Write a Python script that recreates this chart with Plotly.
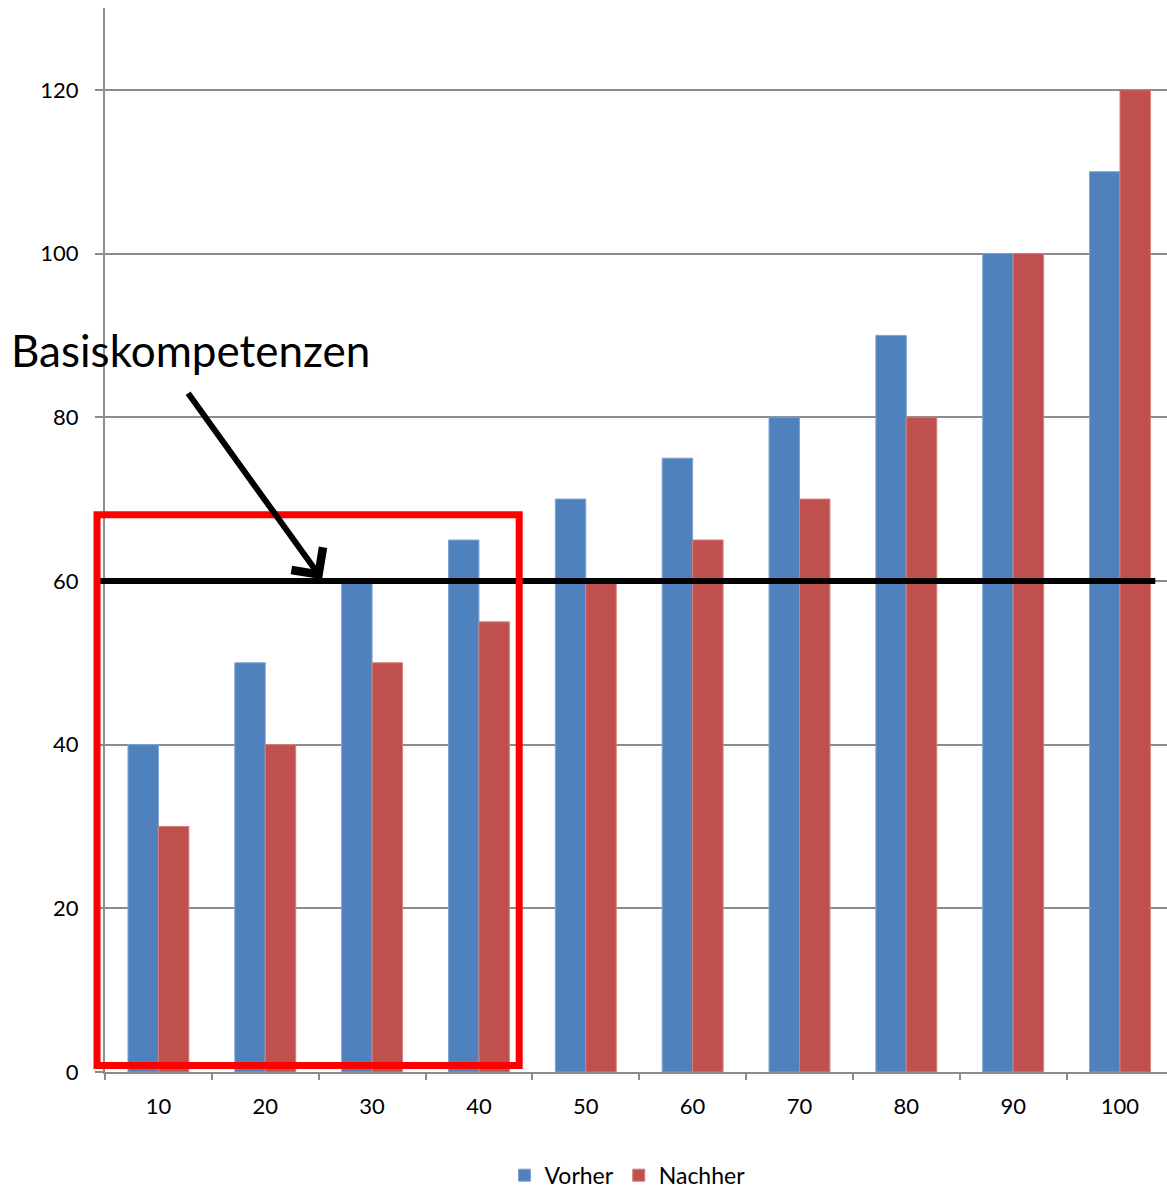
import plotly.graph_objects as go

# Kategorien und Werte
kategorien = ["10", "20", "30", "40", "50", "60", "70", "80", "90", "100"]
vorher = [40, 50, 60, 65, 70, 75, 80, 90, 100, 110]
nachher = [30, 40, 50, 55, 60, 65, 70, 80, 100, 120]
schwelle = 60
y_ticks = [0, 20, 40, 60, 80, 100, 120]

FONT = "Lato, Carlito, Calibri, sans-serif"
BLAU = "#4F81BD"
ROT = "#C0504D"

fig = go.Figure()
fig.add_trace(go.Bar(
    x=kategorien, y=vorher, name="Vorher",
    marker=dict(color=BLAU, line=dict(color="#7EA3D1", width=1)),
))
fig.add_trace(go.Bar(
    x=kategorien, y=nachher, name="Nachher",
    marker=dict(color=ROT, line=dict(color="#D47F7D", width=1)),
))

# Schwellenlinie bei 60
fig.add_shape(type="line", xref="paper", yref="y",
              x0=-0.005, x1=0.989, y0=schwelle, y1=schwelle,
              line=dict(color="black", width=6), layer="above")

# Markierung der ersten vier Gruppen
fig.add_shape(type="rect", xref="paper", yref="y",
              x0=-0.0075, x1=0.390, y0=0.8, y1=68.1,
              line=dict(color="#FF0000", width=7), layer="above")

# Beschriftung mit Pfeil auf die Schwelle
fig.add_annotation(text="Basiskompetenzen", xref="paper", yref="y",
                   x=-0.0905, y=88.2, xanchor="left", yanchor="middle",
                   showarrow=False, font=dict(family=FONT, size=44, color="black"))
fig.add_annotation(x=1.532, y=60.2, ax=0.268, ay=83.1,
                   xref="x", yref="y", axref="x", ayref="y",
                   text="", showarrow=True, arrowhead=4, arrowsize=1.25,
                   arrowwidth=6, arrowcolor="black")

fig.update_layout(
    width=1167, height=1189,
    margin=dict(l=105, r=0, t=8, b=117, autoexpand=False),
    paper_bgcolor="white", plot_bgcolor="white",
    barmode="group", bargap=0.43, bargroupgap=0,
    font=dict(family=FONT, size=22, color="black"),
    showlegend=True,
    legend=dict(orientation="h", x=0.492, xanchor="center",
                y=-0.097, yanchor="middle",
                font=dict(family=FONT, size=23, color="black"),
                itemwidth=30, tracegroupgap=0),
)

fig.update_xaxes(
    type="category", range=[-0.5, 9.44],
    showline=True, linecolor="#8C8C8C", linewidth=2,
    ticks="outside", tickson="boundaries", ticklen=6, tickwidth=2,
    tickcolor="#8C8C8C", showgrid=False, ticklabelstandoff=14,
    tickfont=dict(family=FONT, size=22, color="black"),
)
fig.update_yaxes(
    range=[0, 130], tickvals=y_ticks,
    showline=True, linecolor="#8C8C8C", linewidth=2,
    ticks="outside", ticklen=8, tickwidth=2, tickcolor="#8C8C8C",
    showgrid=True, gridcolor="#8C8C8C", gridwidth=2,
    zeroline=False, ticklabelstandoff=12,
    tickfont=dict(family=FONT, size=22, color="black"),
)

fig.write_html("out.html")
